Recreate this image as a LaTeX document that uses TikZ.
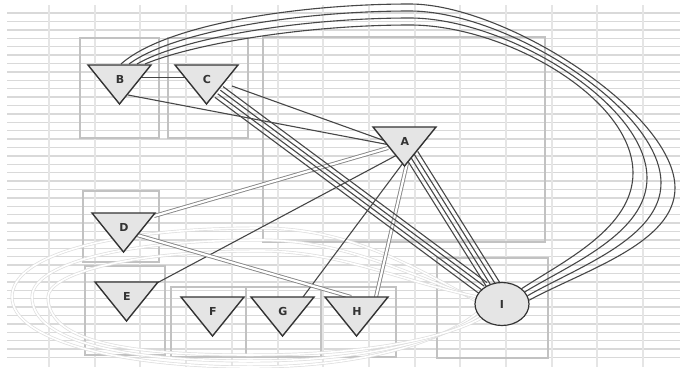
\documentclass[tikz,border=0pt]{standalone}
\usepackage{fontspec}
\setmainfont{DejaVu Sans}
\usetikzlibrary{shapes.geometric,calc}
\pgfdeclarelayer{grid}
\pgfdeclarelayer{edges}
\pgfsetlayers{grid,edges,main}

\tikzset{
  gridline/.style={draw=black!15, line width=1.4pt},
  colline/.style={draw=black!10, line width=2pt},
  cluster/.style={draw=black!24, line width=1.5pt},
  tri/.style={draw=black!80, fill=black!10, line width=1.4pt, line join=miter},
  lbl/.style={font=\bfseries\fontsize{11}{13}\selectfont, text=black!80, inner sep=1pt},
  edge/.style={draw=black!72, line width=1.1pt},
  pair/.style={draw=black!48, line width=0.9pt, double=white, double distance=2.2pt},
  loopline/.style={draw=black!13, line width=0.7pt, double=white, double distance=1.6pt},
}

% triangle node: name, centre, label
\newcommand{\gnode}[3]{%
  \path[tri] (#2) ++(-32,-14) -- ++(63,0) -- ++(-31.5,39) -- cycle;
  \node[lbl] (#1) at (#2) {#3};
}

\begin{document}
\begin{tikzpicture}[x=1pt, y=-1pt]
\useasboundingbox (0,0) rectangle (680,367);

% background grid and clusters
\begin{pgfonlayer}{grid}
\fill[white] (0,0) rectangle (680,367);
\foreach \k in {0,...,41}
  \draw[gridline] (7,13+8.4*\k) -- (680,13+8.4*\k);
\foreach \k in {0,...,13}
  \draw[colline] (49+45.7*\k,5) -- (49+45.7*\k,367);
\draw[cluster] (80,38) rectangle (159,138);
\draw[cluster] (168,38) rectangle (248,138);
\draw[cluster] (263,37) rectangle (545,242);
\draw[cluster] (83,191) rectangle (159,262);
\draw[cluster] (85,266) rectangle (165,355);
\draw[cluster] (171,287) rectangle (246,357);
\draw[cluster] (246,287) rectangle (321,357);
\draw[cluster] (321,287) rectangle (396,357);
\draw[cluster] (437,258) rectangle (548,358);
\end{pgfonlayer}

% nodes
\gnode{B}{120,79}{B}
\gnode{C}{207,79}{C}
\gnode{A}{405,141}{A}
\gnode{D}{124,227}{D}
\gnode{E}{127,296}{E}
\gnode{F}{213,311}{F}
\gnode{G}{283,311}{G}
\gnode{H}{357,311}{H}
\node[lbl, ellipse, draw=black!80, fill=black!10, line width=1.2pt,
      minimum width=54pt, minimum height=43pt] (I) at (502,304) {I};

% connectors
\begin{pgfonlayer}{edges}
\foreach \tp/\lx/\bt/\a/\b in {228/12/367/172/200, 240/32/361/168/207, 251/48/355/164/214}
  \draw[loopline] (I.\a) .. controls (400,\tp+30) and (340,\tp) .. (260,\tp)
    .. controls (120,\tp) and (\lx,\tp+25) .. (\lx,297)
    .. controls (\lx,340) and (120,\bt) .. (250,\bt)
    .. controls (380,\bt) and (450,335) .. (I.\b);

\draw[edge] ($(B)+(21,-1.5)$) -- ($(C)+(-22,-1.5)$);
\draw[edge] ($(B)+(8,16)$) -- ($(A)+(-15,4)$);
\draw[edge] ($(C)+(25,7)$) -- ($(A)+(-17,1)$);
\draw[edge] ($(E)+(30,-13)$) -- ($(A)+(-8,14)$);
\draw[edge] ($(A)+(-2,22)$) -- ($(G)+(20,-14)$);
\draw[pair] ($(A)+(2,22)$) -- ($(H)+(19,-14)$);
\draw[pair] ($(A)+(-17,7)$) -- ($(D)+(30,-11)$);
\draw[pair] ($(D)+(13,8)$) -- ($(H)+(-6,-14)$);

\foreach \k in {-1.5,-0.5,0.5,1.5} {
  \draw[edge] ($(C)+(12+2.7*\k,13-3.6*\k)$) -- ($(I)+(-19+2.7*\k,-16-3.6*\k)$);
  \draw[edge] ($(A)+(7+3.8*\k,14-2.4*\k)$) -- ($(I)+(-8+3.8*\k,-18-2.4*\k)$);
}

\foreach \dx/\ty/\rx/\ry/\cx/\cy/\ang in {1/4/675/188/585/270/8, 9/11/661/183/578/267/18,
    17/18/647/178/571/264/28, 25/25/633/173/564/261/38}
  \draw[edge] ($(B)+(\dx,-15)$) .. controls (\dx+165,\ty+20) and (300,\ty) .. (410,\ty)
    .. controls (505,\ty) and (\rx,\ry-75) .. (\rx,\ry)
    .. controls (\rx,\ry+55) and (\cx,\cy) .. (I.\ang);
\end{pgfonlayer}
\end{tikzpicture}
\end{document}
